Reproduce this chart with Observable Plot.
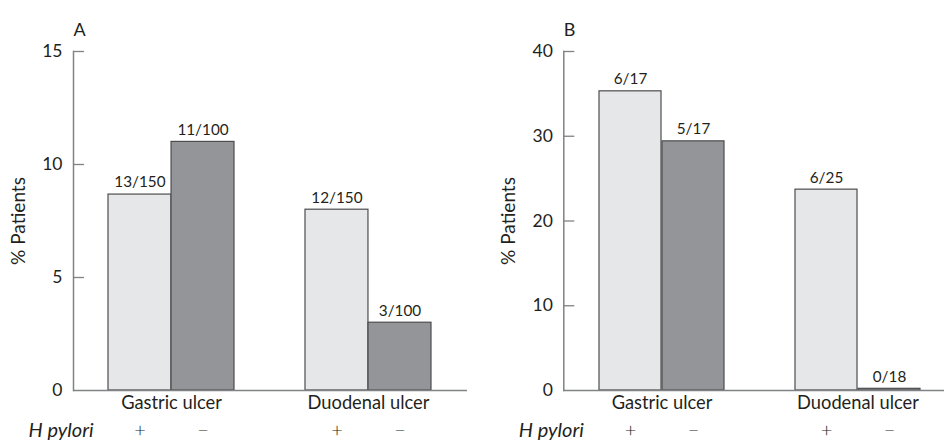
<!DOCTYPE html>
<html><head><meta charset="utf-8">
<script src="https://cdn.jsdelivr.net/npm/d3@7"></script>
<script src="https://cdn.jsdelivr.net/npm/@observablehq/plot@0.6"></script>
<style>
body{margin:0;background:#fff;}
#wrap{display:flex;width:944px;height:445px;overflow:hidden;font-family:Lato,sans-serif}
#wrap svg{flex:none}
</style></head><body><div id="wrap"></div>
<script>
const ulcers = ["Gastric ulcer", "Duodenal ulcer"];
const hpylori = ["+", "−"];
// order: Gastric +, Gastric −, Duodenal +, Duodenal −
const valuesA = [8.67, 11, 8.0, 3];
const labelsA = ["13/150", "11/100", "12/150", "3/100"];
const valuesB = [35.3, 29.4, 23.7, 0.2];
const labelsB = ["6/17", "5/17", "6/25", "0/18"];
const ticksA = [0, 5, 10, 15];
const ticksB = [0, 10, 20, 30, 40];

const fills = {"+": "#e6e7e8", "−": "#939598"};
const INK = "#231f20", AXIS = "#808285", EDGE = "#4d4d4f";

function rowsOf(values, labels) {
  return values.map((v, i) => ({ulcer: ulcers[i >> 1], hp: hpylori[i % 2], value: v, label: labels[i]}));
}

function panel(letter, rows, yMax, ticks, o) {
  const H = 445, mt = 51, mb = 55;
  const pi = 0.36;
  const step = (o.width - o.ml - o.mr) / (ulcers.length - pi + 2 * o.po);
  const bw = step * (1 - pi);
  const marks = [];
  hpylori.forEach((h, k) => {
    const sub = rows.filter(d => d.hp === h);
    const side = k === 0 ? -1 : 1;
    marks.push(Plot.barY(sub, {
      x: "ulcer", y: "value", fill: fills[h], stroke: EDGE, strokeWidth: 1.2,
      insetLeft: k === 0 ? 0 : bw / 2, insetRight: k === 0 ? bw / 2 : 0
    }));
    marks.push(Plot.text(sub, {
      x: "ulcer", y: "value", text: "label", dx: side * bw / 4, dy: -12,
      fontSize: 15.3, fill: INK
    }));
    marks.push(Plot.text(ulcers, {
      x: d => d, text: () => h, frameAnchor: "bottom", dx: side * bw / 4, dy: 46,
      fontSize: 20, fontWeight: 300, fill: INK
    }));
  });
  marks.push(
    Plot.ruleY([0], {stroke: AXIS, strokeWidth: 1.5}),
    Plot.frame({anchor: "left", stroke: AXIS, strokeWidth: 1.5}),
    Plot.tickY(ticks.filter(t => t > 0), {y: d => d, stroke: AXIS, strokeWidth: 1.3,
      insetRight: o.width - o.ml - o.mr - 11}),
    Plot.axisY(ticks, {tickSize: 0, tickPadding: 11, fontSize: 17.5, color: INK, label: null}),
    Plot.text(ulcers, {x: d => d, text: d => d, frameAnchor: "bottom", dy: 18, fontSize: 18.3, fill: INK}),
    Plot.text(["H pylori"], {frameAnchor: "bottom-left", textAnchor: "start", dx: -45, dy: 46,
      fontSize: 20, fontStyle: "italic", letterSpacing: 1, fill: INK}),
    Plot.text([letter], {frameAnchor: "top-left", textAnchor: "start", dy: -28, fontSize: 18, fill: INK}),
    Plot.text(["% Patients"], {frameAnchor: "left", textAnchor: "middle", rotate: -90, dx: -55,
      fontSize: 19, fill: INK})
  );
  return Plot.plot({
    width: o.width, height: H,
    marginLeft: o.ml, marginRight: o.mr, marginTop: mt, marginBottom: mb,
    style: {fontFamily: "Lato, sans-serif", background: "#fff", overflow: "visible"},
    x: {type: "band", domain: ulcers, paddingInner: pi, paddingOuter: o.po, align: o.align, axis: null},
    y: {domain: [0, yMax], axis: null},
    marks
  });
}

const wrap = document.getElementById("wrap");
wrap.append(panel("A", rowsOf(valuesA, labelsA), 15, ticksA, {width: 470, ml: 73, mr: 3, po: 0.18, align: 0.5}));
wrap.append(panel("B", rowsOf(valuesB, labelsB), 40, ticksB, {width: 474, ml: 93.3, mr: 0, po: 0.147, align: 0.61}));
</script>
</body></html>
